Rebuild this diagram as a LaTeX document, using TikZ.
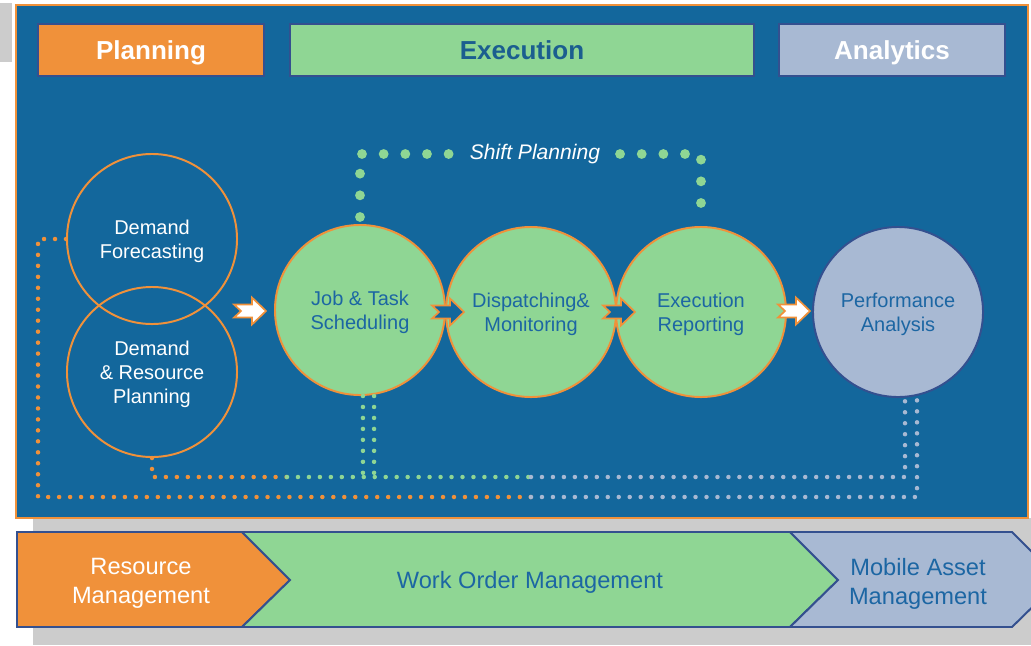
\documentclass[tikz,border=0pt]{standalone}
\usepackage{tkz-euclide}
\usepackage{fontspec}
\setmainfont{Liberation Sans}

\definecolor{panelblue}{HTML}{13679C}
\definecolor{orng}{HTML}{F0913A}
\definecolor{grn}{HTML}{8FD694}
\definecolor{lav}{HTML}{A8B9D3}
\definecolor{navy}{HTML}{34508F}
\definecolor{txtblue}{HTML}{1C66A3}
\definecolor{hdrblue}{HTML}{1B5E8F}
\definecolor{greybg}{HTML}{CCCCCC}

\tikzset{
  hdr/.style={draw=navy, line width=0.9pt, minimum height=1.3cm, inner sep=0pt, text depth=0pt,
    font=\fontsize{18.5pt}{22pt}\selectfont\bfseries},
  proc/.style={circle, minimum size=4.25cm, inner sep=0pt, line width=1.4pt, align=center,
    text depth=0pt, font=\fontsize{14.2pt}{17.1pt}\selectfont},
  flowarr/.pic={\draw[pic actions] (-16,-6.5) -- (2,-6.5) -- (2,-13.5) -- (16,0)
    -- (2,13.5) -- (2,6.5) -- (-16,6.5) -- (-9,0) -- cycle;},
  bigdots/.style={draw=grn, line width=7pt, line cap=round, dash pattern=on 0pt off 15.4pt},
  dotline/.style={draw=#1, line width=3.2pt, line cap=round, dash pattern=on 0pt off 7.8pt},
  bar/.style={draw=navy, line width=1.4pt, line join=miter},
  bartext/.style={align=center, text depth=0pt, font=\fontsize{16.8pt}{20.6pt}\selectfont}
}

\begin{document}
\begin{tikzpicture}[x=0.025cm, y=-0.025cm]
    \useasboundingbox (0,0) rectangle (1031,645);
    % background
    \fill[greybg] (0,3) rectangle (12,62);
    \fill[greybg] (33,518) rectangle (1031,645);
    \draw[fill=panelblue, draw=orng, line width=2pt] (16,5) rectangle (1028,518);

    % headers
    \node[hdr, fill=orng, text=white, minimum width=5.65cm] (plan) at (151,50) {Planning};
    \node[hdr, fill=grn, text=hdrblue, minimum width=11.6cm] (exec) at (522,50) {Execution};
    \node[hdr, fill=lav, text=white, minimum width=5.65cm] (anal) at (892,50) {Analytics};

    % circles
    \node[proc, draw=orng, text=white] (df) at (152,239) {Demand\\Forecasting};
    \node[proc, draw=orng, text=white] (drp) at (152,372) {Demand\\\& Resource\\Planning};
    \node[proc, fill=grn, draw=orng, text=txtblue] (jts) at (360,310) {Job \& Task\\Scheduling};
    \node[proc, fill=grn, draw=orng, text=txtblue] (dm) at (531,312) {Dispatching\&\\Monitoring};
    \node[proc, fill=grn, draw=orng, text=txtblue] (er) at (701,312) {Execution\\Reporting};
    \node[proc, fill=lav, draw=navy, text=txtblue] (pa) at (898,312) {Performance\\Analysis};

    % arrows
    \pic[fill=white, draw=orng, line width=1.2pt] at (250,311) {flowarr};
    \pic[fill=panelblue, draw=orng, line width=1.2pt] at (448,312) {flowarr};
    \pic[fill=panelblue, draw=orng, line width=1.2pt] at (619,312) {flowarr};
    \pic[fill=white, draw=orng, line width=1.2pt] at (794,311) {flowarr};

    % shift planning
    \node[font=\fontsize{15pt}{18pt}\selectfont\itshape, text=white, inner xsep=14pt] (sp) at (535,154) {Shift Planning};
    \draw[bigdots] ([yshift=5pt]jts.north) |- (sp) -| ([yshift=5pt]er.north);

    % feedback lines
    \tkzDefPoints{38/497/oL, 531/497/oM, 917/497/oR, 287/477/iA, 531/477/iB, 905/477/iR}
    \draw[dotline=orng] (df.west) -| (oL) -- (oM);
    \draw[dotline=lav] (oM) -- (oR) -- (oR |- pa.south);
    \draw[dotline=orng] (drp.south) |- (iA);
    \draw[dotline=grn] (iA) -- (iB);
    \draw[dotline=lav] (iB) -- (iR) -- (iR |- pa.south);
    \draw[dotline=grn] ([xshift=2.1pt]jts.south) -- ([xshift=2.1pt]jts.south |- iB);
    \draw[dotline=grn] ([xshift=10pt]jts.south) -- ([xshift=10pt]jts.south |- iB);

    % bottom bar
    \tkzDefPoints{17/532/R1, 242/532/R2, 290/580/R3, 242/627/R4, 17/627/R5,
      790/532/W2, 838/580/W3, 790/627/W4, 1012/532/M2, 1060/580/M3, 1012/627/M4}
    \tkzDrawPolygon[bar, fill=orng](R1,R2,R3,R4,R5)
    \tkzDrawPolygon[bar, fill=grn](R2,W2,W3,W4,R4,R3)
    \tkzDrawPolygon[bar, fill=lav](W2,M2,M3,M4,W4,W3)
    \node[bartext, text=white] (rm) at (141,581) {Resource\\Management};
    \node[bartext, text=txtblue] (wom) at (530,580) {Work Order Management};
    \node[bartext, text=txtblue] (mam) at (918,581) {Mobile Asset\\Management};
\end{tikzpicture}
\end{document}
